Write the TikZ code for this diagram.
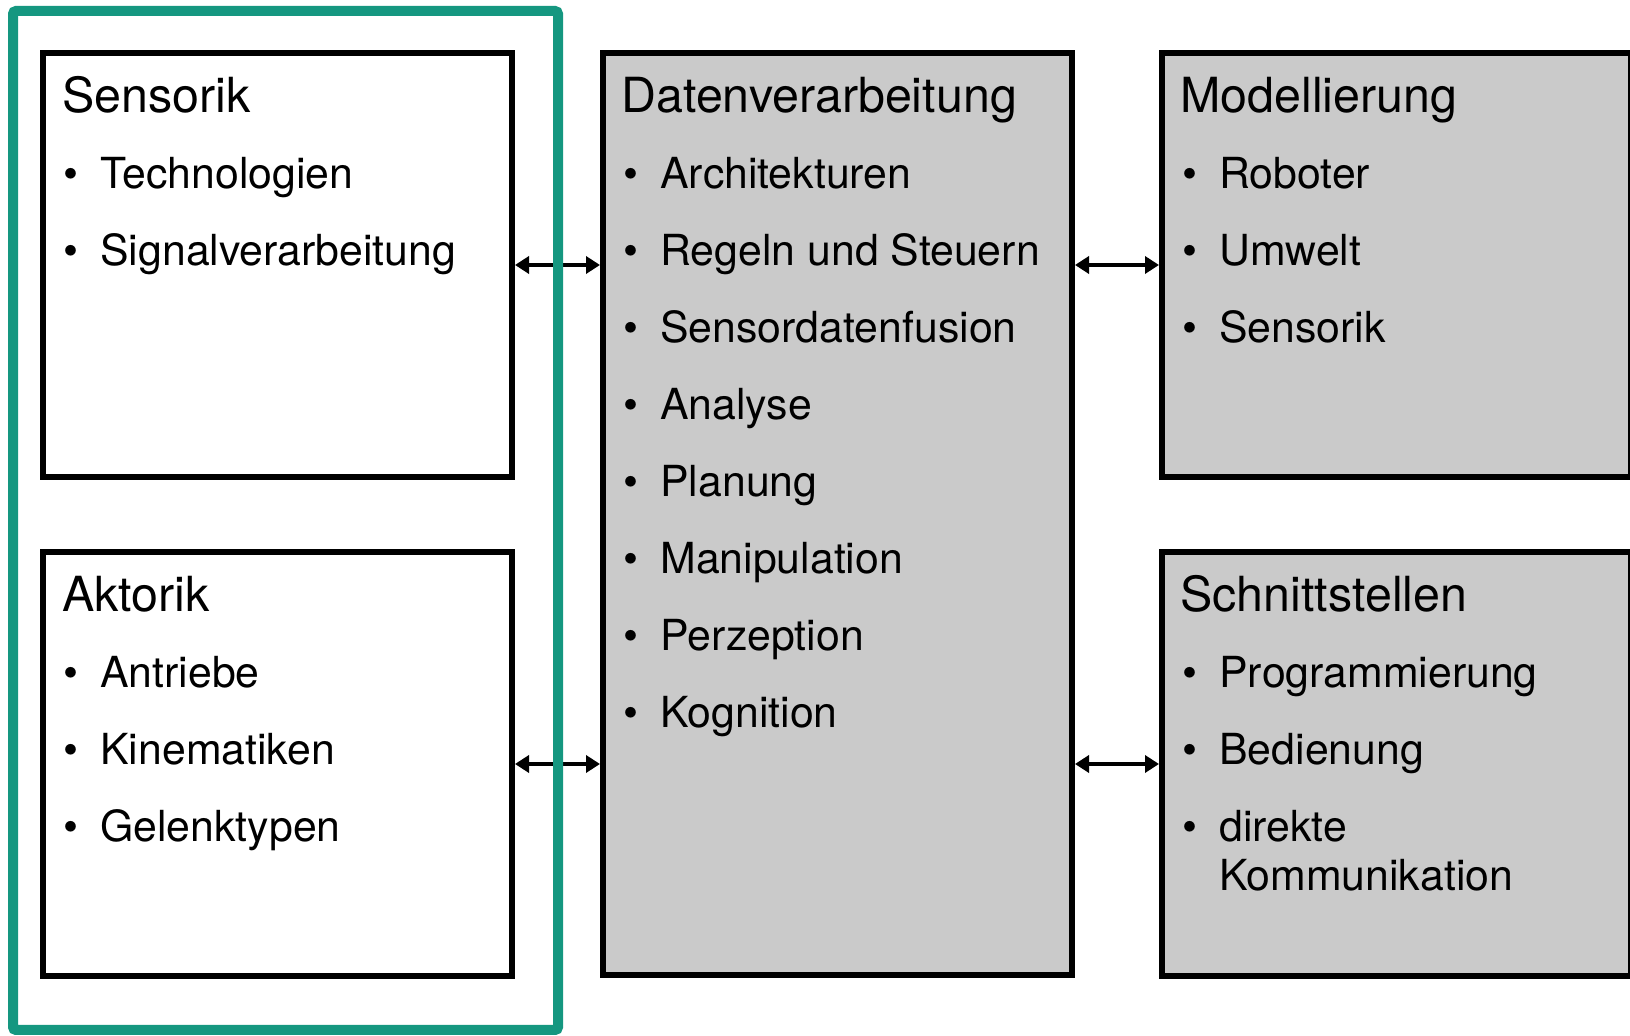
\documentclass[tikz,border=0pt]{standalone}
\usepackage{fontspec}
\setmainfont{TeX Gyre Heros}
\usetikzlibrary{arrows.meta}
\definecolor{frameteal}{RGB}{21,151,128}
\definecolor{boxgray}{RGB}{202,202,202}
\tikzset{
 px/.style={x=0.5pt,y=-0.5pt},
 panel/.style={draw=black, line width=3pt, minimum width=234.5pt, minimum height=212pt, inner sep=0pt},
 graypanel/.style={panel, fill=boxgray},
 whitepanel/.style={panel, fill=white},
 ttl/.style={anchor=base west, inner sep=0pt, font=\fontsize{24.2pt}{28pt}\selectfont},
 itm/.style={anchor=base west, inner sep=0pt, font=\fontsize{21.4pt}{24pt}\selectfont},
 bul/.style={anchor=base, inner sep=0pt, font=\fontsize{21.4pt}{24pt}\selectfont},
 link/.style={line width=2.2pt, {Triangle[length=7pt,width=8.5pt]}-{Triangle[length=7pt,width=8.5pt]}},
 greenframe/.style={draw=frameteal, line width=5pt, rounded corners=1.5pt}
}
\begin{document}
\begin{tikzpicture}[px]
\useasboundingbox (0,0) rectangle (1630,1036);
% panels
\node[whitepanel] (sens) at (277.5,265) {};
\node[whitepanel] (akt) at (277.5,764) {};
\node[graypanel, minimum height=461pt] (dv) at (837.5,514) {};
\node[graypanel] (mod) at (1396.5,265) {};
\node[graypanel] (sch) at (1396.5,764) {};
% titles
\node[ttl] (tsens) at (62,113) {Sensorik};
\node[ttl] (takt) at (62,612) {Aktorik};
\node[ttl] (tdv) at (621,113) {Datenverarbeitung};
\node[ttl] (tmod) at (1180,113) {Modellierung};
\node[ttl] (tsch) at (1180,612) {Schnittstellen};
% items
\foreach \t [count=\i from 0] in {Technologien, Signalverarbeitung} {
  \node[bul] (sb\i) at (71,{189+77*\i}) {•};
  \node[itm] (si\i) at (100,{189+77*\i}) {\t};
}
\foreach \t [count=\i from 0] in {Antriebe, Kinematiken, Gelenktypen} {
  \node[bul] (ab\i) at (71,{688+77*\i}) {•};
  \node[itm] (ai\i) at (100,{688+77*\i}) {\t};
}
\foreach \t [count=\i from 0] in {Architekturen, Regeln und Steuern, Sensordatenfusion, Analyse, Planung, Manipulation, Perzeption, Kognition} {
  \node[bul] (db\i) at (631,{189+77*\i}) {•};
  \node[itm] (di\i) at (660,{189+77*\i}) {\t};
}
\foreach \t [count=\i from 0] in {Roboter, Umwelt, Sensorik} {
  \node[bul] (mb\i) at (1190,{189+77*\i}) {•};
  \node[itm] (mi\i) at (1219,{189+77*\i}) {\t};
}
\foreach \t [count=\i from 0] in {Programmierung, Bedienung, direkte} {
  \node[bul] (cb\i) at (1190,{688+77*\i}) {•};
  \node[itm] (ci\i) at (1219,{688+77*\i}) {\t};
}
\node[itm] (ci3) at (1219,891) {Kommunikation};
% connectors
\draw[link] (sens.east) -- (sens.east -| dv.west);
\draw[link] (akt.east) -- (akt.east -| dv.west);
\draw[link] (dv.east |- mod.west) -- (mod.west);
\draw[link] (dv.east |- sch.west) -- (sch.west);
% green frame
\draw[greenframe] (13,11) rectangle (558,1030);
\end{tikzpicture}
\end{document}
